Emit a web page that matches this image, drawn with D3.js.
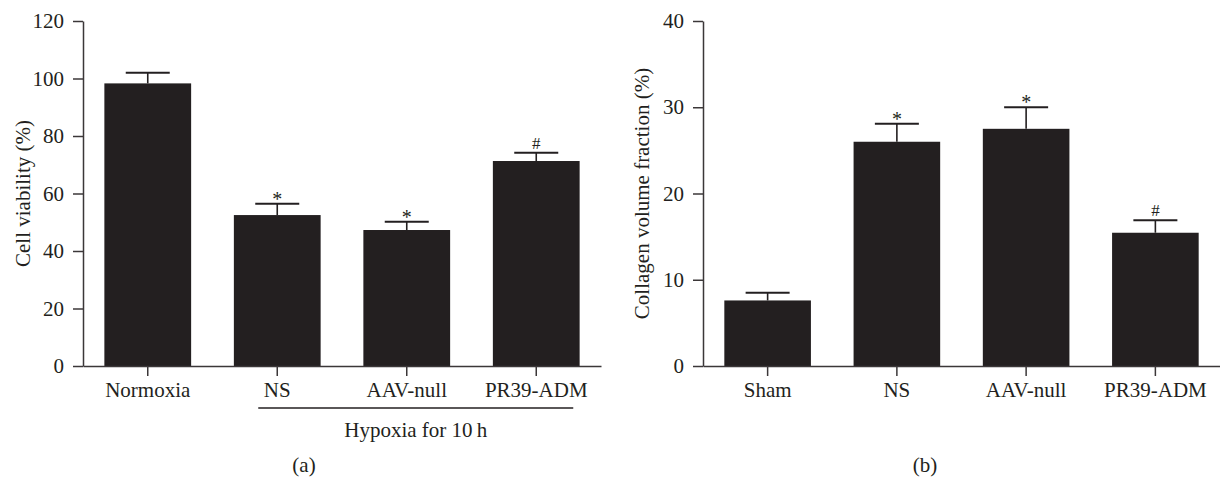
<!DOCTYPE html>
<html><head><meta charset="utf-8">
<script src="https://cdn.jsdelivr.net/npm/d3@7"></script>
<style>
html,body{margin:0;padding:0;background:#fff;}
text{font-family:"Liberation Serif","DejaVu Serif",serif;fill:#231f20;}
</style></head>
<body><svg id="c" width="1220" height="481"></svg>
<script>
// Panel (a)
const catsA = ["Normoxia","NS","AAV-null","PR39-ADM"];
const valsA = [98.3, 52.5, 47.3, 71.3];
const errA  = [3.7, 3.9, 2.9, 2.9];
const markA = ["", "*", "*", "#"];
const ticksA = [0,20,40,60,80,100,120];
// Panel (b)
const catsB = ["Sham","NS","AAV-null","PR39-ADM"];
const valsB = [7.6, 26.0, 27.5, 15.45];
const errB  = [0.9, 2.1, 2.5, 1.45];
const markB = ["", "*", "*", "#"];
const ticksB = [0,10,20,30,40];

const svg = d3.select("#c");
const ink = "#231f20";
const FS = 21;

function panel(cfg){
  const g = svg.append("g");
  const x = d3.scaleBand().domain(cfg.cats).range([cfg.x0, cfg.x1]).paddingInner(0.33).paddingOuter(0.165);
  const y = d3.scaleLinear().domain([0, cfg.max]).range([366, 21]);
  g.selectAll("rect.bar").data(cfg.vals).enter().append("rect")
    .attr("x",(d,i)=>x(cfg.cats[i])).attr("width",x.bandwidth())
    .attr("y",d=>y(d)).attr("height",d=>y(0)-y(d)).attr("fill",ink);
  const cx = i => x(cfg.cats[i]) + x.bandwidth()/2;
  g.selectAll("line.ev").data(cfg.vals).enter().append("line")
    .attr("x1",(d,i)=>cx(i)).attr("x2",(d,i)=>cx(i))
    .attr("y1",d=>y(d)).attr("y2",(d,i)=>y(d+cfg.err[i]))
    .attr("stroke",ink).attr("stroke-width",1.6);
  g.selectAll("line.cap").data(cfg.vals).enter().append("line")
    .attr("x1",(d,i)=>cx(i)-22).attr("x2",(d,i)=>cx(i)+22)
    .attr("y1",(d,i)=>y(d+cfg.err[i])).attr("y2",(d,i)=>y(d+cfg.err[i]))
    .attr("stroke",ink).attr("stroke-width",2);
  g.selectAll("text.mk").data(cfg.marks).enter().append("text")
    .attr("x",(d,i)=>cx(i)).attr("y",(d,i)=>y(cfg.vals[i]+cfg.err[i]) - (d==="*"? -2 : 4))
    .attr("text-anchor","middle").attr("font-size",d=>d==="*"?20:17).text(d=>d);
  const ya = g.append("g").attr("transform",`translate(${cfg.x0},0)`)
    .call(d3.axisLeft(y).tickValues(cfg.ticks).tickSize(10).tickSizeOuter(0).tickPadding(9));
  const xa = g.append("g").attr("transform","translate(0,366)")
    .call(d3.axisBottom(x).tickSize(10).tickSizeOuter(0).tickPadding(6.5));
  [ya,xa].forEach(a=>{
    a.selectAll("path,line").attr("stroke","#3b3738").attr("stroke-width",1.5);
    a.selectAll("text").attr("font-size",FS).attr("font-family","Liberation Serif").attr("fill",ink);
  });
  g.append("text").attr("transform",`translate(${cfg.tx},193.5) rotate(-90)`)
    .attr("text-anchor","middle").attr("font-size",FS).text(cfg.title);
  g.append("text").attr("x",cfg.lx).attr("y",472).attr("text-anchor","middle")
    .attr("font-size",FS).text(cfg.label);
  return {x,y,cx};
}

const A = panel({cats:catsA, vals:valsA, err:errA, marks:markA, ticks:ticksA, max:120,
  x0:83, x1:601, tx:30, title:"Cell viability (%)", lx:304, label:"(a)"});
panel({cats:catsB, vals:valsB, err:errB, marks:markB, ticks:ticksB, max:40,
  x0:703, x1:1220, tx:649, title:"Collagen volume fraction (%)", lx:925, label:"(b)"});

const hx1 = A.cx(1) - 19, hx2 = A.cx(3) + 37;
svg.append("line").attr("x1",hx1).attr("x2",hx2).attr("y1",408).attr("y2",408)
  .attr("stroke",ink).attr("stroke-width",1.5);
svg.append("text").attr("x",(hx1+hx2)/2).attr("y",437).attr("text-anchor","middle")
  .attr("font-size",FS).text("Hypoxia for 10\u2009h");
</script></body></html>
